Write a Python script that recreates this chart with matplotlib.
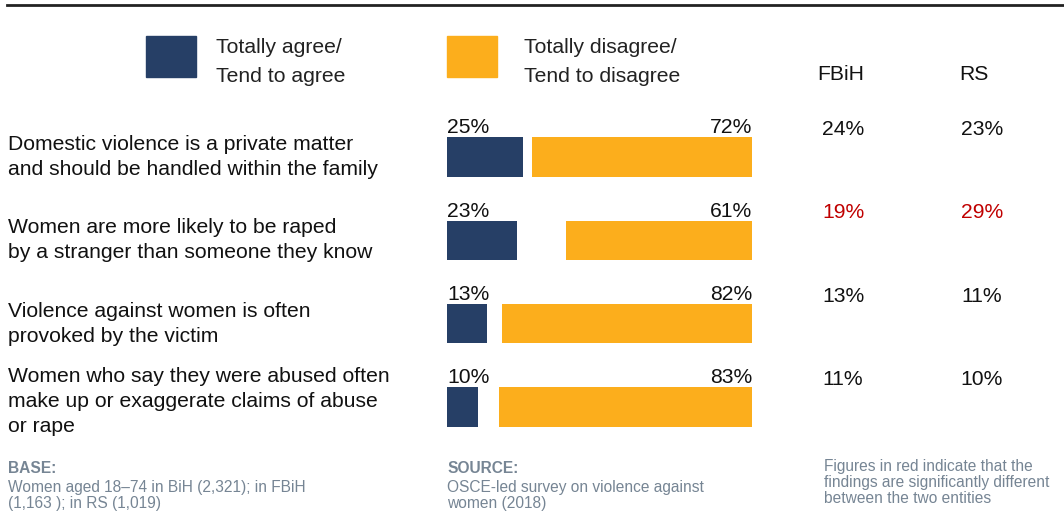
import matplotlib
matplotlib.use("Agg")
import matplotlib.pyplot as plt
from matplotlib.patches import Rectangle
from matplotlib.transforms import blended_transform_factory

plt.rcParams["font.family"] = ["Liberation Sans", "DejaVu Sans"]

STATEMENTS = [
    "Domestic violence is a private matter\nand should be handled within the family",
    "Women are more likely to be raped\nby a stranger than someone they know",
    "Violence against women is often\nprovoked by the victim",
    "Women who say they were abused often\nmake up or exaggerate claims of abuse\nor rape",
]
AGREE = [25, 23, 13, 10]
DISAGREE = [72, 61, 82, 83]
FBIH = [24, 19, 13, 11]
RS = [23, 29, 11, 10]
SIGNIFICANT = [False, True, False, False]

NAVY = "#263f66"
ORANGE = "#fcae1c"
RED = "#c00000"
GREY = "#768594"
INK = "#111111"
FS = 15.2

W, H = 1064, 532
fig = plt.figure(figsize=(W / 100, H / 100), dpi=100)


# ---------------------------------------------------------------------------/
def fx(px):
    return px / W


def fy(py):
    return 1 - py / H


# top rule
fig.add_artist(plt.Line2D([fx(7), 1], [fy(5), fy(5)], color="#222222", lw=2.0))

# legend swatches + column headers
fig.add_artist(Rectangle((fx(146), fy(77)), fx(50), 41 / H, color=NAVY))
fig.add_artist(Rectangle((fx(447), fy(77)), fx(50), 41 / H, color=ORANGE))
for x0, l1, l2 in [(216, "Totally agree/", "Tend to agree"),
                   (524, "Totally disagree/", "Tend to disagree")]:
    fig.text(fx(x0), fy(47.5), l1, fontsize=FS, va="center", ha="left", color="#222222")
    fig.text(fx(x0), fy(77), l2, fontsize=FS, va="center", ha="left", color="#222222")
fig.text(fx(841), fy(75), "FBiH", fontsize=FS, ha="center", va="center", color=INK)
fig.text(fx(974), fy(75), "RS", fontsize=FS, ha="center", va="center", color=INK)

# ---------------------------------------------------------------------------/
# bars: agree from the left edge, disagree flush with the right edge
top, bottom = 115.3, 448.7
ax = fig.add_axes([fx(447), fy(bottom), fx(752) - fx(447), (bottom - top) / H])
ax.set_xlim(0, 100)
ax.set_ylim(len(STATEMENTS) - 0.5, -0.5)
ax.axis("off")

bh = 0.47
rows = list(range(len(STATEMENTS)))
ax.barh(rows, AGREE, height=bh, left=0, color=NAVY)
ax.barh(rows, DISAGREE, height=bh, left=[100 - v for v in DISAGREE], color=ORANGE)

for i in rows:
    ax.annotate(f"{AGREE[i]}%", (0, i - bh / 2), xytext=(0, 3), textcoords="offset points",
                ha="left", va="baseline", fontsize=FS, color=INK)
    ax.annotate(f"{DISAGREE[i]}%", (100, i - bh / 2), xytext=(0, 3), textcoords="offset points",
                ha="right", va="baseline", fontsize=FS, color=INK)

# statements on the left (three-line one sits a bit higher), entity figures on the right
tr = blended_transform_factory(fig.transFigure, ax.transData)
for i in rows:
    nudge = -0.07 if STATEMENTS[i].count("\n") > 1 else 0
    fig.text(fx(8), i + nudge, STATEMENTS[i], transform=tr, fontsize=FS, ha="left", va="center",
             linespacing=1.4, color=INK)
    c = RED if SIGNIFICANT[i] else INK
    fig.text(fx(843), i - 0.33, f"{FBIH[i]}%", transform=tr, fontsize=FS,
             ha="center", va="center", color=c)
    fig.text(fx(982), i - 0.33, f"{RS[i]}%", transform=tr, fontsize=FS,
             ha="center", va="center", color=c)

# ---------------------------------------------------------------------------/
# footer notes
FFS = 11.2
fig.text(fx(8), fy(461), "BASE:", fontsize=FFS, fontweight="bold", color=GREY, va="top")
fig.text(fx(8), fy(480), "Women aged 18\u201374 in BiH (2,321); in FBiH\n(1,163 ); in RS (1,019)",
         fontsize=FFS, color=GREY, va="top", linespacing=1.1)
fig.text(fx(447), fy(461), "SOURCE:", fontsize=FFS, fontweight="bold", color=GREY, va="top")
fig.text(fx(447), fy(480), "OSCE-led survey on violence against\nwomen (2018)",
         fontsize=FFS, color=GREY, va="top", linespacing=1.1)
fig.text(fx(824), fy(459), "Figures in red indicate that the\nfindings are significantly different\nbetween the two entities",
         fontsize=FFS, color=GREY, va="top", linespacing=1.1)

fig.savefig("out.png", dpi=100)
